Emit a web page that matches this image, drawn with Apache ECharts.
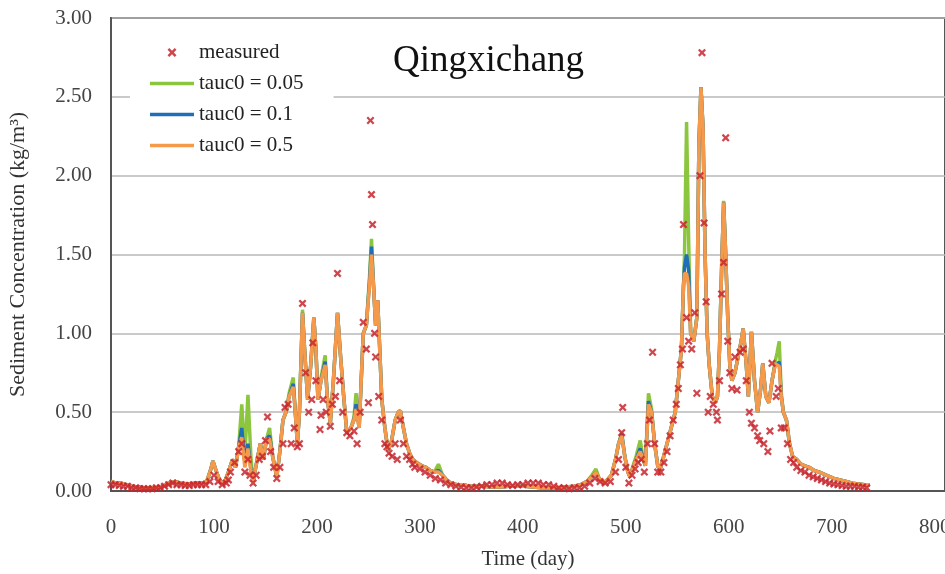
<!DOCTYPE html>
<html>
<head>
<meta charset="utf-8">
<script src="https://cdn.jsdelivr.net/npm/echarts@6/dist/echarts.min.js"></script>
<style>html,body{margin:0;padding:0;background:#fff}#c{width:945px;height:574px}</style>
</head>
<body>
<div id="c"></div>
<script>
// ---- data ----
const xTicks = [0, 100, 200, 300, 400, 500, 600, 700, 800];
const yTicks = [0, 0.5, 1, 1.5, 2, 2.5, 3];

const modelDays = [
  0,5,10,15,20,26,32,38,43,50,
  56,62,68,75,82,88,93,97,99,102,
  106,110,114,118,121,124,127,130,133,136,
  138,142,145,148,151,154,157,161,164,167,
  170,173,177,179,181,183,186,188,191,194,
  197,199,201,204,208,210,213,216,220,223,
  226,229,233,236,238,241,243,245,248,251,
  253,255,257,259,261,263,266,269,272,276,
  279,281,284,287,290,293,297,302,306,310,
  314,318,322,326,330,336,342,348,355,362,
  370,378,386,394,402,410,418,426,434,442,
  450,456,462,467,471,474,478,482,486,490,
  493,496,499,502,504,507,510,514,517,519,
  522,525,528,531,533,536,540,544,548,551,
  554,556,557,559,561,563,566,569,571,573,
  575,577,579,581,584,587,589,591,593,595,
  597,599,601,603,606,609,612,614,617,619,
  622,625,628,631,633,636,639,642,645,647,
  649,651,653,656,659,662,666,670,674,678,
  683,688,695,702,708,714,720,726,732,737
];

const tauc005 = [
  .06,.05,.05,.04,.03,.025,.02,.02,.02,.03,
  .05,.06,.05,.045,.05,.05,.06,.14,.19,.13,
  .06,.05,.12,.2,.15,.28,.55,.22,.61,.2,
  .06,.2,.3,.2,.33,.40,.22,.09,.25,.45,
  .5,.62,.72,.5,.3,.5,1.15,.9,.58,.8,
  1.1,.9,.58,.72,.86,.6,.43,.7,1.13,.85,
  .6,.37,.4,.47,.62,.4,.7,1.0,1.05,1.35,
  1.6,1.3,1.05,1.21,.9,.58,.4,.26,.3,.45,
  .5,.51,.4,.3,.24,.2,.18,.16,.15,.13,
  .12,.17,.1,.07,.05,.04,.04,.03,.03,.03,
  .025,.025,.03,.03,.03,.025,.02,.02,.02,.025,
  .03,.04,.06,.1,.14,.08,.05,.07,.1,.2,
  .3,.37,.22,.12,.09,.16,.22,.32,.2,.16,
  .62,.52,.3,.16,.13,.2,.3,.4,.5,.7,
  .9,1.3,1.5,2.34,1.6,1.0,.95,1.1,2.2,2.56,
  2.3,1.5,1.0,.8,.6,.56,.6,.9,1.4,1.84,
  1.5,1.1,.8,.7,.75,.85,.95,1.03,.8,.6,
  1.01,.7,.5,.65,.81,.6,.56,.7,.82,.88,
  .95,.62,.5,.45,.3,.22,.2,.17,.16,.15,
  .13,.12,.1,.08,.07,.06,.05,.045,.04,.04
];

const tauc01 = [
  .06,.05,.05,.04,.03,.025,.02,.02,.02,.03,
  .05,.06,.05,.045,.05,.05,.06,.14,.19,.13,
  .06,.05,.12,.2,.15,.28,.40,.18,.30,.13,
  .06,.2,.3,.2,.33,.35,.22,.09,.25,.45,
  .5,.6,.68,.5,.3,.5,1.13,.9,.58,.8,
  1.1,.9,.58,.7,.82,.6,.43,.7,1.13,.85,
  .6,.37,.4,.45,.55,.4,.7,1.0,1.05,1.32,
  1.55,1.3,1.05,1.21,.9,.58,.4,.26,.3,.45,
  .5,.51,.4,.3,.24,.2,.18,.16,.15,.13,
  .12,.13,.1,.07,.05,.04,.04,.03,.03,.03,
  .025,.025,.03,.03,.03,.025,.02,.02,.02,.025,
  .03,.04,.06,.09,.12,.08,.05,.07,.1,.2,
  .3,.36,.22,.12,.09,.15,.2,.27,.2,.16,
  .57,.5,.3,.16,.13,.2,.3,.4,.5,.7,
  .9,1.3,1.42,1.5,1.4,1.0,.95,1.1,2.2,2.56,
  2.3,1.5,1.0,.8,.6,.56,.6,.9,1.4,1.83,
  1.5,1.1,.8,.7,.75,.85,.95,1.03,.8,.6,
  1.01,.7,.5,.65,.81,.6,.56,.7,.8,.8,
  .82,.6,.5,.45,.3,.22,.2,.17,.16,.15,
  .13,.12,.1,.08,.07,.06,.05,.045,.04,.04
];

const tauc05 = [
  .06,.05,.05,.04,.03,.025,.02,.02,.02,.03,
  .05,.06,.05,.045,.05,.05,.06,.14,.19,.13,
  .06,.05,.12,.2,.15,.28,.34,.15,.27,.12,
  .06,.2,.3,.2,.33,.33,.22,.09,.25,.45,
  .5,.6,.66,.5,.3,.5,1.13,.9,.58,.8,
  1.1,.9,.58,.7,.8,.6,.43,.7,1.13,.85,
  .6,.37,.4,.45,.52,.4,.7,1.0,1.05,1.3,
  1.5,1.3,1.05,1.21,.9,.58,.4,.26,.3,.45,
  .5,.51,.4,.3,.24,.2,.18,.16,.15,.13,
  .12,.12,.1,.07,.05,.04,.04,.03,.03,.03,
  .025,.025,.03,.03,.03,.025,.02,.02,.02,.025,
  .03,.04,.06,.09,.12,.08,.05,.07,.1,.2,
  .3,.35,.22,.12,.09,.15,.2,.25,.2,.16,
  .55,.5,.3,.16,.13,.2,.3,.4,.5,.7,
  .9,1.3,1.38,1.38,1.3,1.0,.95,1.1,2.2,2.56,
  2.3,1.5,1.0,.8,.6,.56,.6,.9,1.4,1.83,
  1.5,1.1,.8,.7,.75,.85,.95,1.03,.8,.6,
  1.01,.7,.5,.65,.81,.6,.56,.7,.8,.8,
  .79,.6,.5,.45,.3,.22,.2,.17,.16,.15,
  .13,.12,.1,.08,.07,.06,.05,.045,.04,.04
];

const measuredDays = [
  0,4,8,12,16,20,24,28,32,36,40,44,48,52,56,60,64,68,72,76,80,84,88,92,96,100,104,108,112,
  114,116,120,124,127,130,133,135,138,141,144,147,150,152,155,158,161,164,167,169,172,175,178,181,183,
  186,189,192,195,196,199,203,204,206,209,213,215,218,220,222,225,229,232,236,239,242,245,248,250,
  252,253,254,256,257,260,263,266,268,270,273,276,278,281,284,287,290,293,295,300,305,310,315,320,325,
  330,335,340,345,350,355,360,365,370,375,380,385,390,395,400,405,410,415,420,425,430,435,440,445,450,455,
  460,465,470,475,480,485,490,493,496,497,500,503,506,509,512,515,518,521,523,526,528,531,534,537,540,
  543,546,549,551,553,555,556,559,561,564,567,569,572,574,576,578,580,582,585,588,589,591,593,595,597,
  599,601,603,606,608,611,614,617,620,622,625,628,630,634,638,640,642,646,648,651,654,657,660,663,666,
  670,674,678,682,686,690,694,698,702,706,710,714,718,722,726,730,734
];
const measuredValues = [
  .04,.04,.035,.03,.03,.02,.02,.015,.015,.015,.015,.02,.02,.03,.04,.05,.04,.04,.035,.035,.04,.04,.04,.04,.06,.1,.06,.04,.05,
  .07,.12,.18,.25,.3,.12,.2,.1,.05,.1,.2,.22,.32,.47,.25,.15,.08,.15,.3,.53,.55,.3,.4,.28,.3,
  1.19,.75,.5,.58,.94,.7,.39,.48,.58,.5,.41,.55,.6,1.38,.7,.5,.37,.35,.38,.3,.5,1.07,.9,.56,
  2.35,1.88,1.69,1.0,.85,.6,.45,.3,.28,.24,.22,.3,.2,.45,.3,.22,.2,.17,.15,.14,.12,.1,.08,.07,.05,
  .04,.03,.025,.02,.02,.025,.03,.04,.04,.05,.05,.04,.035,.04,.04,.05,.05,.05,.04,.04,.03,.02,.02,.015,.02,.02,
  .03,.05,.08,.06,.05,.06,.12,.2,.37,.53,.15,.05,.1,.14,.18,.2,.12,.3,.45,.88,.3,.12,.12,.18,.25,
  .35,.45,.55,.65,.8,.9,1.69,1.1,.95,.9,1.13,.62,2.0,2.78,1.7,1.2,.5,.6,.55,.5,.45,.7,1.25,1.45,2.24,
  .95,.75,.65,.85,.64,.88,.9,.7,.5,.43,.4,.35,.32,.3,.25,.38,.81,.6,.65,.4,.4,.3,.2,.18,.15,
  .13,.12,.1,.09,.08,.07,.06,.05,.045,.04,.035,.03,.03,.03,.025,.025,.02
];

const seriesNames = ['measured', 'tauc0 = 0.05', 'tauc0 = 0.1', 'tauc0 = 0.5'];
const seriesColors = ['#c8262e', '#8cc63f', '#1f6fb8', '#f5994a'];

// ---- build ----
const pair = (xs, ys) => xs.map((d, i) => [d, ys[i]]);
const crossPath = 'path://M2,0L5,3L8,0L10,2L7,5L10,8L8,10L5,7L2,10L0,8L3,5L0,2Z';
const lineIcon = 'path://M0,0L44,0L44,3.5L0,3.5Z';
const serif = '"Liberation Serif", "DejaVu Serif", serif';

const chart = echarts.init(document.getElementById('c'));
chart.setOption({
  animation: false,
  backgroundColor: '#fff',
  title: {
    text: 'Qingxichang',
    left: 388, top: 38,
    textStyle: { fontFamily: serif, fontSize: 37, fontWeight: 'normal', color: '#111' }
  },
  legend: {
    orient: 'vertical',
    left: 130, top: 30,
    padding: [12, 30, 12, 20],
    backgroundColor: '#fff',
    itemWidth: 44, itemHeight: 9, itemGap: 10,
    textStyle: { fontFamily: serif, fontSize: 21, color: '#222', lineHeight: 21 },
    data: [
      { name: seriesNames[0], icon: crossPath },
      { name: seriesNames[1], icon: lineIcon },
      { name: seriesNames[2], icon: lineIcon },
      { name: seriesNames[3], icon: lineIcon }
    ]
  },
  grid: {
    left: 111, right: 0, top: 18, bottom: 83,
    outerBoundsMode: 'none', containLabel: false,
    show: true, borderColor: '#555', borderWidth: 2
  },
  xAxis: {
    type: 'value', min: 0, max: 810, interval: 100,
    name: 'Time (day)', nameLocation: 'middle', nameGap: 58,
    nameTextStyle: { fontFamily: serif, fontSize: 21, color: '#333' },
    axisLine: { show: true, lineStyle: { color: '#555', width: 2 } },
    axisTick: { show: false },
    splitLine: { show: false },
    axisLabel: {
      margin: 26, fontFamily: serif, fontSize: 21, color: '#444',
      formatter: v => (xTicks.indexOf(v) >= 0 ? String(v) : '')
    }
  },
  yAxis: {
    type: 'value', min: 0, max: 3, interval: 0.5,
    name: 'Sediment Concentration (kg/m³)', nameLocation: 'middle', nameGap: 82, nameRotate: 90,
    nameTextStyle: { fontFamily: serif, fontSize: 22, color: '#333' },
    axisLine: { show: true, lineStyle: { color: '#555', width: 2 } },
    axisTick: { show: false },
    splitLine: { show: true, lineStyle: { color: '#b8b8b8', width: 1.5 } },
    axisLabel: {
      margin: 19, fontFamily: serif, fontSize: 21, color: '#444',
      formatter: v => (yTicks.indexOf(v) >= 0 ? v.toFixed(2) : '')
    }
  },
  series: [
    {
      name: seriesNames[1], type: 'line', data: pair(modelDays, tauc005),
      showSymbol: false, symbol: 'none', z: 2,
      lineStyle: { color: seriesColors[1], width: 3.5 }, itemStyle: { color: seriesColors[1] }
    },
    {
      name: seriesNames[2], type: 'line', data: pair(modelDays, tauc01),
      showSymbol: false, symbol: 'none', z: 3,
      lineStyle: { color: seriesColors[2], width: 3.5 }, itemStyle: { color: seriesColors[2] }
    },
    {
      name: seriesNames[3], type: 'line', data: pair(modelDays, tauc05),
      showSymbol: false, symbol: 'none', z: 4,
      lineStyle: { color: seriesColors[3], width: 3.5 }, itemStyle: { color: seriesColors[3] }
    },
    {
      name: seriesNames[0], type: 'scatter', data: pair(measuredDays, measuredValues),
      symbol: crossPath, symbolSize: 8, z: 5,
      itemStyle: { color: seriesColors[0], opacity: 0.85 }
    }
  ]
});
</script>
</body>
</html>
